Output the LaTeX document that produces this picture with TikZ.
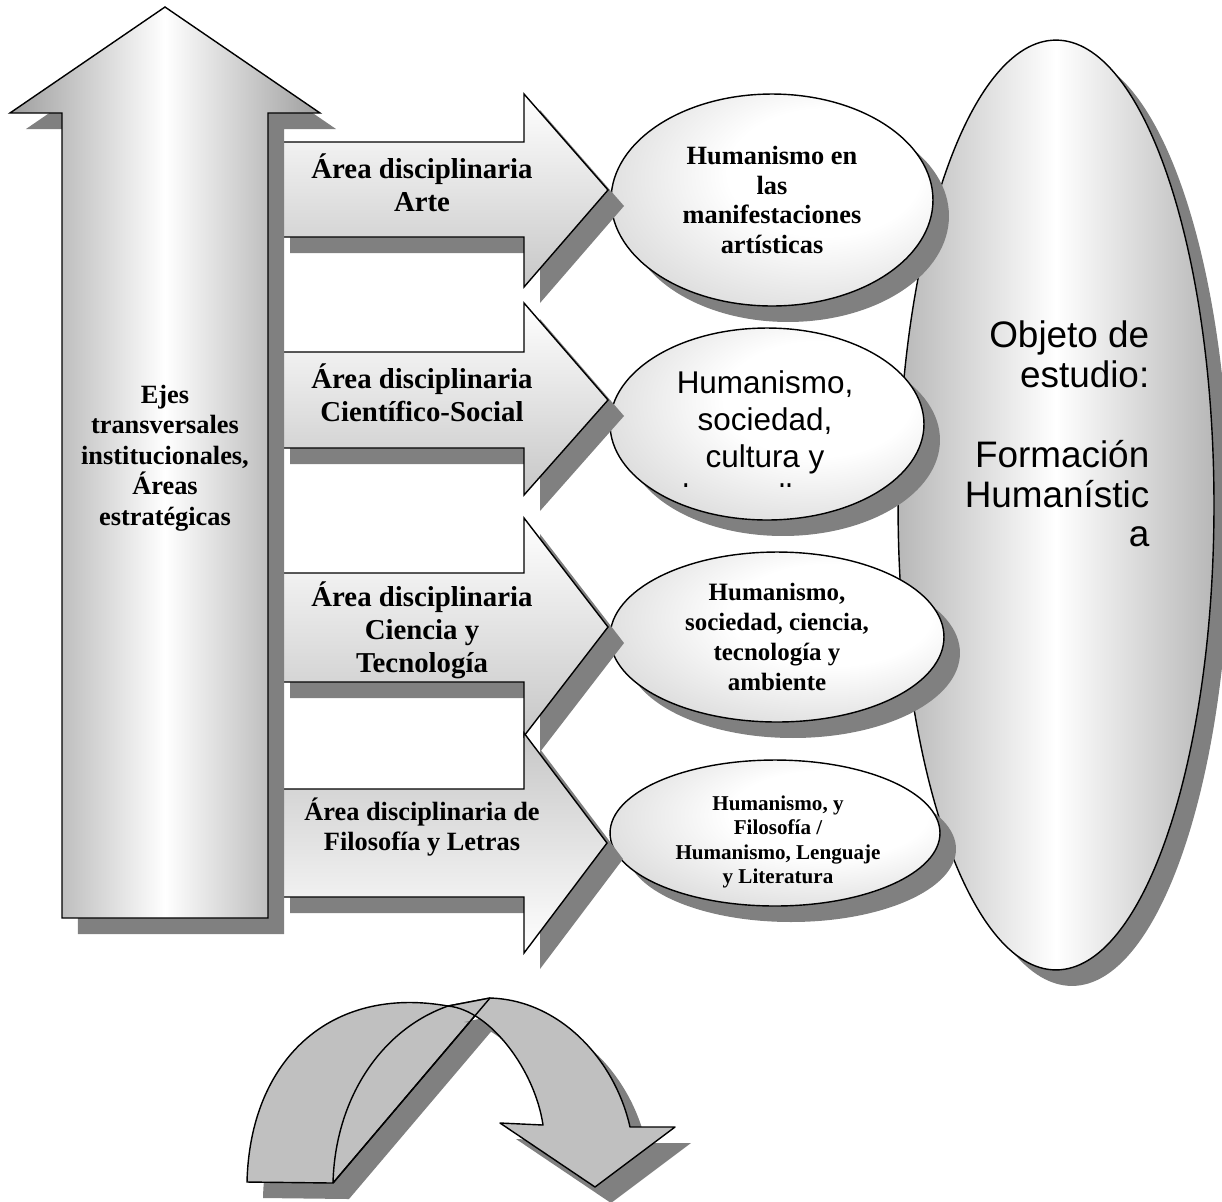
\documentclass[tikz,border=0pt]{standalone}
\usepackage{fontspec}
\setmainfont{Liberation Serif}
\newfontfamily\arialfont{Liberation Sans}
\usetikzlibrary{shapes.geometric,shadows}

\definecolor{shadowgray}{HTML}{808080}
\definecolor{ribbongray}{HTML}{C0C0C0}

\pgfdeclareradialshading{ovalshade}{\pgfpoint{10bp}{8bp}}{%
  color(0bp)=(white); color(15bp)=(white); color(60bp)=(black!33); color(80bp)=(black!33)}

\tikzset{
  outline/.style={draw=black, line width=0.8pt},
  dropped/.style={drop shadow={shadow xshift=0.32cm, shadow yshift=-0.32cm, fill=shadowgray, opacity=1}},
  sideshade/.style={left color=black!38, right color=black!38, middle color=white},
  armshade/.style={top color=white, bottom color=black!22},
  oval/.style={ellipse, outline, dropped, shade, shading=ovalshade, inner sep=0pt},
  armtext/.style={align=center, font=\fontsize{16.4}{18.7}\selectfont\bfseries},
  ovaltext/.style={align=center, font=\fontsize{15}{17}\selectfont\bfseries},
  ribbon/.style={outline, fill=ribbongray, line join=round}
}

\begin{document}
\begin{tikzpicture}[x=0.02cm, y=-0.02cm]

  \fill[white] (0,0) rectangle (1222,1201);
  \useasboundingbox (0,0) rectangle (1222,1201);

  % object of study
  \node[ellipse, outline, dropped, left color=black!28, right color=black!28, middle color=white,
        minimum width=6.32cm, minimum height=18.6cm] (objetooval) at (1056,505) {};
  \node[align=right, font=\arialfont\fontsize{21}{22.7}\selectfont] (objeto) at (1057,434)
    {Objeto de\\estudio:\\\mbox{}\\Formación\\Humanístic\\a};

  % the four ovals
  \node[oval, ovaltext, minimum width=6.44cm, minimum height=4.24cm] (arteoval) at (772,200)
    {Humanismo en\\las\\manifestaciones\\artísticas};

  \node[oval, minimum width=6.28cm, minimum height=3.84cm] (socialoval) at (767,424) {};
  \begin{scope}
    \clip (600,320) rectangle (940,486);
    \node[align=center, font=\arialfont\fontsize{17.9}{21}\selectfont] (socialtext) at (765,422)
      {Humanismo,\\sociedad,\\cultura y};
    \node[anchor=base, font=\arialfont\fontsize{17.9}{21}\selectfont] (socialcut) at (741,506) {desarrollo};
  \end{scope}

  \node[oval, ovaltext, font=\fontsize{14.2}{17}\selectfont\bfseries,
        minimum width=6.68cm, minimum height=3.4cm] (tecnooval) at (777,637)
    {Humanismo,\\sociedad, ciencia,\\tecnología y\\ambiente};

  \node[oval, minimum width=6.6cm, minimum height=2.92cm] (letrasoval) at (775,833) {};
  \node[ovaltext, font=\fontsize{12}{13.9}\selectfont\bfseries] (letrastext) at (778,842)
    {Humanismo, y\\Filosofía /\\Humanismo, Lenguaje\\y Literatura};

  % arrows to the ovals
  \path[outline, dropped, armshade] (274,142) -- (524,142) -- (524,94) -- (608,190)
    -- (524,287) -- (524,237) -- (274,237) -- cycle;
  \node[armtext] (arte) at (422,183) {Área disciplinaria\\Arte};

  \path[outline, dropped, armshade] (274,352) -- (524,352) -- (524,303) -- (608,400)
    -- (524,495) -- (524,448) -- (274,448) -- cycle;
  \node[armtext] (social) at (422,393) {Área disciplinaria\\Científico-Social};

  \path[outline, dropped, armshade] (274,573) -- (524,573) -- (524,518) -- (608,627)
    -- (524,736) -- (524,682) -- (274,682) -- cycle;
  \node[armtext] (tecno) at (422,630) {Área disciplinaria\\Ciencia y\\Tecnología};

  \path[outline, dropped, top color=black!22, bottom color=white] (274,789) -- (524,789)
    -- (524,733) -- (607,843) -- (524,953) -- (524,897) -- (274,897) -- cycle;
  \node[armtext, font=\fontsize{15}{17}\selectfont\bfseries] (letras) at (422,827)
    {Área disciplinaria de\\Filosofía y Letras};

  % upward arrow
  \path[outline, dropped, sideshade] (165,7) -- (320,113) -- (268,113) -- (268,918)
    -- (62,918) -- (62,113) -- (10,113) -- cycle;
  \node[armtext, font=\fontsize{15}{17.3}\selectfont\bfseries] (ejes) at (165,458)
    {Ejes\\transversales\\institucionales,\\Áreas\\estratégicas};

  % curved arrow at the bottom
  \path[ribbon, dropped] (247,1182) .. controls (250,1060) and (330,985) .. (448,1006)
    -- (490,998) -- (333,1183) -- cycle;
  \draw[outline] (333,1183) .. controls (335,1100) and (380,1030) .. (448,1006);
  \path[ribbon, dropped] (490,998) .. controls (560,1000) and (615,1060) .. (630,1127)
    -- (675,1127) -- (595,1187) -- (500,1123) -- (543,1125)
    .. controls (535,1070) and (490,1010) .. (448,1006) -- cycle;
  \draw[outline] (490,998) -- (333,1183);

\end{tikzpicture}
\end{document}
